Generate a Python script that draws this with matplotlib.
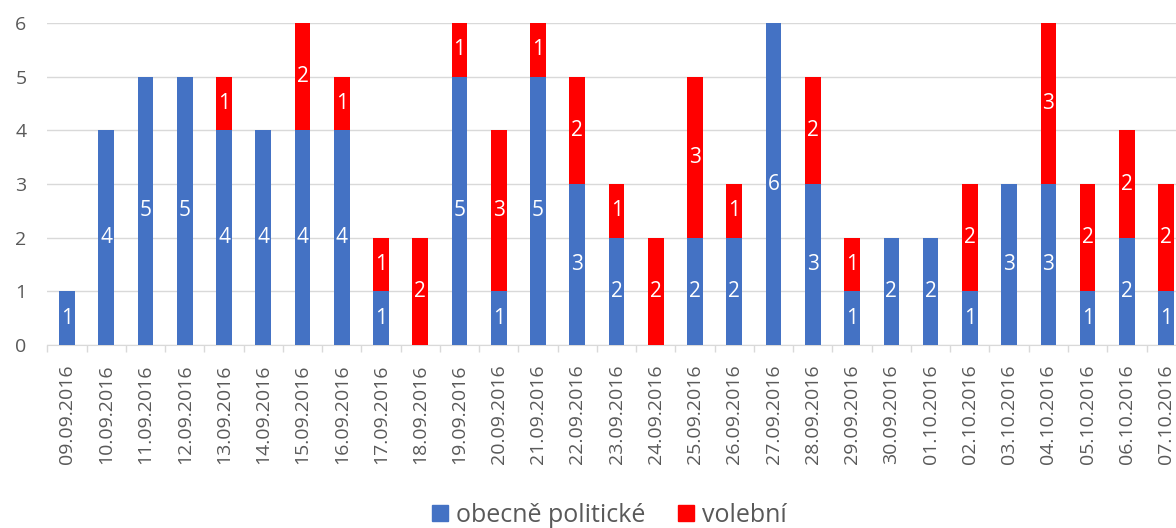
import numpy as np
import matplotlib.pyplot as plt
from matplotlib.patches import Patch

# data
dates = [ '09.09.2016', '10.09.2016', '11.09.2016', '12.09.2016', '13.09.2016', '14.09.2016',
          '15.09.2016', '16.09.2016', '17.09.2016', '18.09.2016', '19.09.2016', '20.09.2016',
          '21.09.2016', '22.09.2016', '23.09.2016', '24.09.2016', '25.09.2016', '26.09.2016',
          '27.09.2016', '28.09.2016', '29.09.2016', '30.09.2016', '01.10.2016', '02.10.2016',
          '03.10.2016', '04.10.2016', '05.10.2016', '06.10.2016', '07.10.2016' ]
obecne = [ 1, 4, 5, 5, 4, 4, 4, 4, 1, 0, 5, 1, 5, 3, 2, 0, 2, 2, 6, 3, 1, 2, 2, 1, 3, 3, 1, 2, 1 ]
volebni = [ 0, 0, 0, 0, 1, 0, 2, 1, 1, 2, 1, 3, 1, 2, 1, 2, 3, 1, 0, 2, 1, 0, 0, 2, 0, 3, 2, 2, 2 ]
series_names = [ 'obecně politické', 'volební' ]

blue, red, grey = '#4472C4', '#FF0000', '#595959'
plt.rcParams['font.family'] = [ 'Open Sans', 'DejaVu Sans' ]

fig = plt.figure( figsize=( 11.76, 5.28 ), dpi=100 )
ax = fig.add_axes( [ 0.0403, 0.3466, 0.968, 0.6098 ] )

x = np.arange( len( dates ) )
b1 = ax.bar( x, obecne, width=0.4, color=blue, zorder=3 )
b2 = ax.bar( x, volebni, width=0.4, bottom=obecne, color=red, zorder=3 )

# value labels in the middle of each segment
for vals, base in [ ( obecne, [0]*len( x ) ), ( volebni, obecne ) ]:
    for xi, v, b0 in zip( x, vals, base ):
        if v > 0:
            ax.text( xi, b0 + v/2, str( v ), ha='center', va='center', color='white', fontsize=15, zorder=4 )

ax.set_xlim( -0.5, len( dates ) - 0.5 )
ax.set_ylim( 0, 6 )
ax.set_yticks( np.arange( 0, 7 ) )
ax.grid( axis='y', color='#D9D9D9', linewidth=1, zorder=0 )
ax.tick_params( axis='y', length=0, pad=15, labelsize=14, labelcolor=grey )
ax.set_xticks( x, dates, rotation=90 )
ax.set_xticks( np.arange( -0.5, len( dates ) ), minor=True )
ax.tick_params( axis='x', which='major', length=0, pad=14, labelsize=14, labelcolor=grey )
ax.tick_params( axis='x', which='minor', length=5, color='#D9D9D9', width=1 )
for s in [ 'top', 'right', 'left' ]:
    ax.spines[s].set_visible( False )
ax.spines['bottom'].set_color( '#D9D9D9' )

handles = [ Patch( color=blue ), Patch( color=red ) ]
fig.legend( handles, series_names, loc='lower center', bbox_to_anchor=( 0.518, 0.0 ), ncol=2, frameon=False,
            fontsize=18, borderpad=0, borderaxespad=0, handlelength=0.64, handleheight=0.64,
            handletextpad=0.32, columnspacing=1.3, labelcolor=grey )

fig.savefig( 'out.png', dpi=100 )
